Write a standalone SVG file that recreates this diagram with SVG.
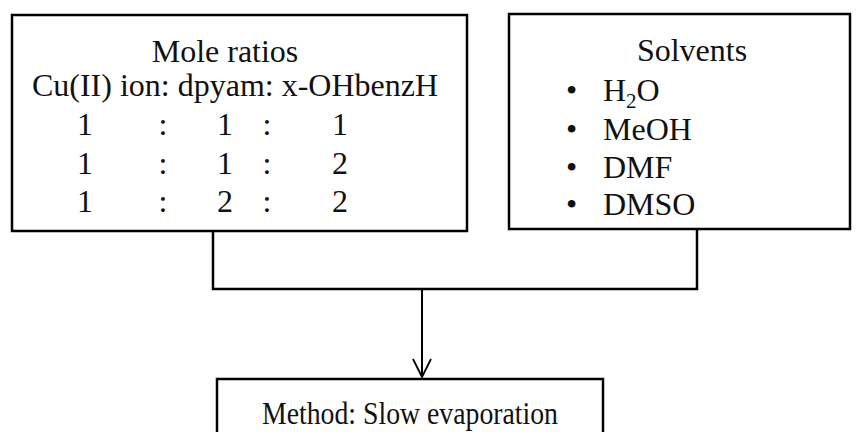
<svg xmlns="http://www.w3.org/2000/svg" width="863" height="432" viewBox="0 0 863 432">
  <style>
    .box { fill: #ffffff; stroke: #000000; stroke-width: 2.5; }
    .txt { font-family: "Liberation Serif", "Times New Roman", serif; font-size: 32px; fill: #111111; }
    .mid { text-anchor: middle; }
    .sub { font-size: 21px; }
    .wire { fill: none; stroke: #000000; stroke-width: 2.5; }
    .head { fill: none; stroke: #000000; stroke-width: 1.8; }
  </style>
  <rect width="863" height="432" fill="#ffffff"/>

  <g id="connectors">
    <polyline class="wire" points="213,231 213,289 697,289 697,229"/>
    <path d="M422,289 L422,377" fill="none" stroke="#000" stroke-width="2"/>
    <path class="head" d="M413,359 L422,377 L431,359"/>
  </g>

  <g id="mole-ratios">
    <rect class="box" x="12" y="15" width="455" height="216"/>
    <text class="txt mid" x="225" y="62">Mole ratios</text>
    <text class="txt mid" x="235" y="96">Cu(II) ion: dpyam: x-OHbenzH</text>
    <g class="txt mid">
      <text x="85" y="135">1</text><text x="163" y="135">:</text><text x="225" y="135">1</text><text x="267" y="135">:</text><text x="340" y="135">1</text>
      <text x="85" y="174">1</text><text x="163" y="174">:</text><text x="225" y="174">1</text><text x="267" y="174">:</text><text x="340" y="174">2</text>
      <text x="85" y="212">1</text><text x="163" y="212">:</text><text x="225" y="212">2</text><text x="267" y="212">:</text><text x="340" y="212">2</text>
    </g>
  </g>

  <g id="solvents">
    <rect class="box" x="509" y="14" width="341" height="215"/>
    <text class="txt mid" x="692" y="61">Solvents</text>
    <g class="txt">
      <text x="566" y="101">•</text><text x="603" y="101">H<tspan class="sub" dy="7">2</tspan><tspan dy="-7">O</tspan></text>
      <text x="566" y="140">•</text><text x="603" y="140">MeOH</text>
      <text x="566" y="178">•</text><text x="603" y="178">DMF</text>
      <text x="566" y="215">•</text><text x="603" y="215">DMSO</text>
    </g>
  </g>

  <g id="method">
    <rect class="box" x="217" y="379" width="386" height="70"/>
    <text class="txt" x="262" y="424" textLength="296" lengthAdjust="spacingAndGlyphs">Method: Slow evaporation</text>
  </g>
</svg>
